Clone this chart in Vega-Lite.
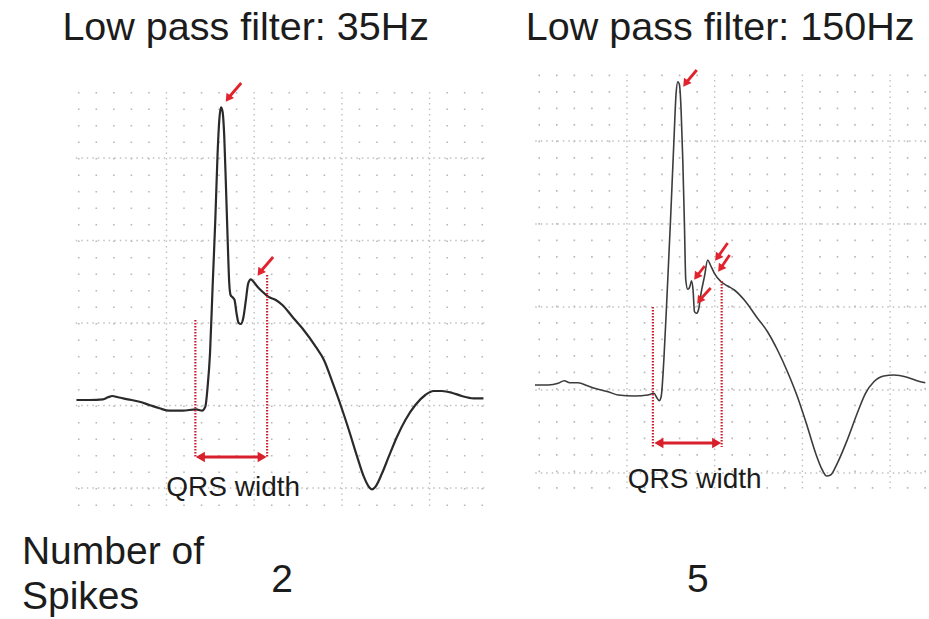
{
  "$schema": "https://vega.github.io/schema/vega-lite/v6.json",
  "width": 929,
  "height": 619,
  "padding": 0,
  "autosize": {"type": "fit", "contains": "padding"},
  "background": "white",
  "config": {"view": {"stroke": null}, "text": {"font": "Liberation Sans"}},
  "datasets": {
    "gridV": [
      {"x": 79, "y": 92, "y2": 506, "kind": "minor"},
      {"x": 96.6, "y": 92, "y2": 506, "kind": "minor"},
      {"x": 114.2, "y": 92, "y2": 506, "kind": "minor"},
      {"x": 131.8, "y": 92, "y2": 506, "kind": "minor"},
      {"x": 149.4, "y": 92, "y2": 506, "kind": "minor"},
      {"x": 167, "y": 92, "y2": 506, "kind": "major"},
      {"x": 184.6, "y": 92, "y2": 506, "kind": "minor"},
      {"x": 202.2, "y": 92, "y2": 506, "kind": "minor"},
      {"x": 219.8, "y": 92, "y2": 506, "kind": "minor"},
      {"x": 237.4, "y": 92, "y2": 506, "kind": "minor"},
      {"x": 255, "y": 92, "y2": 506, "kind": "major"},
      {"x": 272.6, "y": 92, "y2": 506, "kind": "minor"},
      {"x": 290.2, "y": 92, "y2": 506, "kind": "minor"},
      {"x": 307.8, "y": 92, "y2": 506, "kind": "minor"},
      {"x": 325.4, "y": 92, "y2": 506, "kind": "minor"},
      {"x": 343, "y": 92, "y2": 506, "kind": "major"},
      {"x": 360.6, "y": 92, "y2": 506, "kind": "minor"},
      {"x": 378.2, "y": 92, "y2": 506, "kind": "minor"},
      {"x": 395.8, "y": 92, "y2": 506, "kind": "minor"},
      {"x": 413.4, "y": 92, "y2": 506, "kind": "minor"},
      {"x": 431, "y": 92, "y2": 506, "kind": "major"},
      {"x": 448.6, "y": 92, "y2": 506, "kind": "minor"},
      {"x": 466.2, "y": 92, "y2": 506, "kind": "minor"},
      {"x": 483.8, "y": 92, "y2": 506, "kind": "minor"},
      {"x": 541, "y": 74.6, "y2": 491, "kind": "minor"},
      {"x": 558.6, "y": 74.6, "y2": 491, "kind": "minor"},
      {"x": 576.2, "y": 74.6, "y2": 491, "kind": "minor"},
      {"x": 593.8, "y": 74.6, "y2": 491, "kind": "minor"},
      {"x": 611.4, "y": 74.6, "y2": 491, "kind": "minor"},
      {"x": 629, "y": 74.6, "y2": 491, "kind": "major"},
      {"x": 646.6, "y": 74.6, "y2": 491, "kind": "minor"},
      {"x": 664.2, "y": 74.6, "y2": 491, "kind": "minor"},
      {"x": 681.8, "y": 74.6, "y2": 491, "kind": "minor"},
      {"x": 699.4, "y": 74.6, "y2": 491, "kind": "minor"},
      {"x": 717, "y": 74.6, "y2": 491, "kind": "major"},
      {"x": 734.6, "y": 74.6, "y2": 491, "kind": "minor"},
      {"x": 752.2, "y": 74.6, "y2": 491, "kind": "minor"},
      {"x": 769.8, "y": 74.6, "y2": 491, "kind": "minor"},
      {"x": 787.4, "y": 74.6, "y2": 491, "kind": "minor"},
      {"x": 805, "y": 74.6, "y2": 491, "kind": "major"},
      {"x": 822.6, "y": 74.6, "y2": 491, "kind": "minor"},
      {"x": 840.2, "y": 74.6, "y2": 491, "kind": "minor"},
      {"x": 857.8, "y": 74.6, "y2": 491, "kind": "minor"},
      {"x": 875.4, "y": 74.6, "y2": 491, "kind": "minor"},
      {"x": 893, "y": 74.6, "y2": 491, "kind": "major"},
      {"x": 910.6, "y": 74.6, "y2": 491, "kind": "minor"},
      {"x": 928.2, "y": 74.6, "y2": 491, "kind": "minor"}
    ],
    "gridH": [
      {"y": 158, "x": 76, "x2": 486},
      {"y": 240.5, "x": 76, "x2": 486},
      {"y": 323, "x": 76, "x2": 486},
      {"y": 405.5, "x": 76, "x2": 486},
      {"y": 488, "x": 76, "x2": 486},
      {"y": 141, "x": 537, "x2": 929},
      {"y": 224, "x": 537, "x2": 929},
      {"y": 307, "x": 537, "x2": 929},
      {"y": 390, "x": 537, "x2": 929},
      {"y": 473, "x": 537, "x2": 929}
    ],
    "traceL": [
      {"x": 76.7, "y": 400}, {"x": 90, "y": 400}, {"x": 103.3, "y": 399.3}, {"x": 108.3, "y": 397.3},
      {"x": 112.7, "y": 396}, {"x": 118.3, "y": 397.3}, {"x": 128.3, "y": 399.3}, {"x": 140, "y": 401.7},
      {"x": 150, "y": 405}, {"x": 160, "y": 408.3}, {"x": 170, "y": 410.7}, {"x": 183.3, "y": 410.7},
      {"x": 196.7, "y": 409.3}, {"x": 202.7, "y": 410.7}, {"x": 206, "y": 406.7}, {"x": 208.3, "y": 386.7},
      {"x": 210.7, "y": 353.3}, {"x": 213.3, "y": 286.7}, {"x": 216, "y": 220}, {"x": 218.3, "y": 153.3},
      {"x": 220, "y": 120}, {"x": 221.7, "y": 107.3}, {"x": 223.3, "y": 111.7}, {"x": 225, "y": 136.7},
      {"x": 226.7, "y": 186.7}, {"x": 228.3, "y": 236.7}, {"x": 230, "y": 283.3}, {"x": 231.3, "y": 295},
      {"x": 233.3, "y": 297.3}, {"x": 235.3, "y": 300}, {"x": 237.3, "y": 313.3}, {"x": 239.3, "y": 322.7},
      {"x": 241.7, "y": 324}, {"x": 244, "y": 318.3}, {"x": 246.7, "y": 300}, {"x": 249, "y": 283.3},
      {"x": 251.7, "y": 279.3}, {"x": 254.3, "y": 281.7}, {"x": 258.3, "y": 286.7}, {"x": 263.3, "y": 291.7},
      {"x": 269, "y": 296.7}, {"x": 276.7, "y": 300}, {"x": 283.3, "y": 305}, {"x": 293.3, "y": 316.7},
      {"x": 303.3, "y": 328.3}, {"x": 316.7, "y": 346.7}, {"x": 325, "y": 360}, {"x": 333.3, "y": 381.7},
      {"x": 341.7, "y": 405}, {"x": 350, "y": 430}, {"x": 358.3, "y": 456.7}, {"x": 365, "y": 476.7},
      {"x": 370, "y": 486.7}, {"x": 373.3, "y": 489.3}, {"x": 376.7, "y": 486.7}, {"x": 383.3, "y": 473.3},
      {"x": 390, "y": 456.7}, {"x": 398.3, "y": 436.7}, {"x": 406.7, "y": 420}, {"x": 416.7, "y": 405},
      {"x": 426.7, "y": 395}, {"x": 435, "y": 391}, {"x": 443.3, "y": 391}, {"x": 453.3, "y": 392.7},
      {"x": 463.3, "y": 396}, {"x": 475, "y": 398.3}, {"x": 485, "y": 398.3}
    ],
    "traceR": [
      {"x": 536.7, "y": 385}, {"x": 550, "y": 385}, {"x": 560, "y": 383.3}, {"x": 566, "y": 380.7},
      {"x": 571.7, "y": 382.7}, {"x": 580, "y": 382.7}, {"x": 590, "y": 386}, {"x": 600, "y": 389.3},
      {"x": 610, "y": 391.7}, {"x": 620, "y": 395}, {"x": 636.7, "y": 396}, {"x": 650, "y": 395},
      {"x": 656, "y": 393.3}, {"x": 659.3, "y": 398.3}, {"x": 661.3, "y": 400.7}, {"x": 663.3, "y": 396.7},
      {"x": 666, "y": 360}, {"x": 669.3, "y": 293.3}, {"x": 672.7, "y": 220}, {"x": 676, "y": 143.3},
      {"x": 678.3, "y": 93.3}, {"x": 680, "y": 81.7}, {"x": 681.7, "y": 85}, {"x": 683.3, "y": 110},
      {"x": 685, "y": 160}, {"x": 686.7, "y": 226.7}, {"x": 688, "y": 280}, {"x": 690, "y": 289.3},
      {"x": 692.3, "y": 286}, {"x": 693.7, "y": 280.7}, {"x": 695.3, "y": 290}, {"x": 696.7, "y": 311.7},
      {"x": 698.7, "y": 313.3}, {"x": 700.7, "y": 310}, {"x": 703.3, "y": 293.3}, {"x": 706.7, "y": 276.7},
      {"x": 710, "y": 260}, {"x": 712.7, "y": 265}, {"x": 716.7, "y": 273.3}, {"x": 723.3, "y": 281.7},
      {"x": 730, "y": 286}, {"x": 736.7, "y": 290}, {"x": 746.7, "y": 300}, {"x": 760, "y": 318.3},
      {"x": 770, "y": 331.7}, {"x": 780, "y": 350}, {"x": 790, "y": 371.7}, {"x": 800, "y": 396.7},
      {"x": 810, "y": 426.7}, {"x": 818.3, "y": 453.3}, {"x": 825, "y": 470}, {"x": 829.3, "y": 476},
      {"x": 833.3, "y": 475}, {"x": 840, "y": 463.3}, {"x": 850, "y": 440}, {"x": 860, "y": 413.3},
      {"x": 868.3, "y": 393.3}, {"x": 876.7, "y": 381.7}, {"x": 886.7, "y": 376}, {"x": 896.7, "y": 375},
      {"x": 910, "y": 377.3}, {"x": 920, "y": 380.7}, {"x": 928.3, "y": 382.7}
    ],
    "qrsLines": [
      {"x": 196, "y": 320, "y2": 458},
      {"x": 268, "y": 275, "y2": 458},
      {"x": 655, "y": 307, "y2": 447},
      {"x": 724, "y": 281, "y2": 447}
    ],
    "qrsArrows": [
      {"x": 201, "x2": 263, "y": 457},
      {"x": 661, "x2": 719, "y": 443}
    ],
    "spikeArrows": [
      {"x": 242, "y": 83, "x2": 229.5, "y2": 97.5},
      {"x": 274, "y": 257, "x2": 261.5, "y2": 271.5},
      {"x": 699, "y": 70, "x2": 688.5, "y2": 82.5},
      {"x": 730, "y": 243, "x2": 720.5, "y2": 256.5},
      {"x": 732, "y": 255, "x2": 723.5, "y2": 267.5},
      {"x": 707, "y": 266, "x2": 699.5, "y2": 275.5},
      {"x": 713, "y": 288, "x2": 702.5, "y2": 299.5}
    ],
    "titles": [
      {"x": 246.5, "y": 40, "text": "Low pass filter: 35Hz"},
      {"x": 722.5, "y": 40, "text": "Low pass filter: 150Hz"}
    ],
    "rowLabel": [
      {"x": 22, "y": 564, "text": "Number of"},
      {"x": 22, "y": 609, "text": "Spikes"}
    ],
    "counts": [
      {"x": 283, "y": 592, "text": "2"},
      {"x": 700, "y": 592, "text": "5"}
    ],
    "qrsText": [
      {"x": 234, "y": 496, "text": "QRS width"},
      {"x": 697, "y": 488, "text": "QRS width"}
    ]
  },
  "encoding": {
    "x": {"field": "x", "type": "quantitative", "scale": {"domain": [0, 929], "nice": false, "zero": false}, "axis": null},
    "y": {"field": "y", "type": "quantitative", "scale": {"domain": [0, 619], "nice": false, "zero": false, "reverse": true}, "axis": null}
  },
  "layer": [
    {
      "data": {"name": "gridV"},
      "transform": [{"filter": "datum.kind === 'minor'"}],
      "mark": {"type": "rule", "color": "#b8b8b8", "strokeWidth": 1.6, "strokeDash": [1.6, 14.9]},
      "encoding": {"y2": {"field": "y2"}}
    },
    {
      "data": {"name": "gridV"},
      "transform": [{"filter": "datum.kind === 'major'"}],
      "mark": {"type": "rule", "color": "#c0c0c0", "strokeWidth": 1.4, "strokeDash": [1.5, 4]},
      "encoding": {"y2": {"field": "y2"}}
    },
    {
      "data": {"name": "gridH"},
      "mark": {"type": "rule", "color": "#c0c0c0", "strokeWidth": 1.4, "strokeDash": [1.5, 4]},
      "encoding": {"x2": {"field": "x2"}}
    },
    {
      "data": {"name": "traceL"},
      "mark": {"type": "line", "color": "#2a2a2a", "strokeWidth": 2.2, "interpolate": "monotone"},
      "encoding": {}
    },
    {
      "data": {"name": "traceR"},
      "mark": {"type": "line", "color": "#3c3c3c", "strokeWidth": 1.6, "interpolate": "monotone"},
      "encoding": {}
    },
    {
      "data": {"name": "qrsLines"},
      "mark": {"type": "rule", "color": "#c8202e", "strokeWidth": 2.2, "strokeDash": [1.6, 1.4]},
      "encoding": {"y2": {"field": "y2"}}
    },
    {
      "data": {"name": "qrsArrows"},
      "mark": {"type": "rule", "color": "#d8202c", "strokeWidth": 3},
      "encoding": {"x2": {"field": "x2"}}
    },
    {
      "data": {"name": "qrsArrows"},
      "mark": {"type": "point", "shape": "triangle-left", "filled": true, "color": "#d8202c", "size": 110, "opacity": 1},
      "encoding": {}
    },
    {
      "data": {"name": "qrsArrows"},
      "mark": {"type": "point", "shape": "triangle-right", "filled": true, "color": "#d8202c", "size": 110, "opacity": 1},
      "encoding": {"x": {"field": "x2", "type": "quantitative"}}
    },
    {
      "data": {"name": "spikeArrows"},
      "mark": {"type": "rule", "color": "#e0232d", "strokeWidth": 2.8},
      "encoding": {"x2": {"field": "x2"}, "y2": {"field": "y2"}}
    },
    {
      "data": {"name": "spikeArrows"},
      "mark": {"type": "point", "shape": "triangle", "angle": 215, "filled": true, "color": "#e0232d", "size": 85, "opacity": 1},
      "encoding": {"x": {"field": "x2", "type": "quantitative"}, "y": {"field": "y2", "type": "quantitative"}}
    },
    {
      "data": {"name": "titles"},
      "mark": {"type": "text", "fontSize": 39.5, "align": "center", "baseline": "alphabetic", "color": "#1c1c1c"},
      "encoding": {"text": {"field": "text"}}
    },
    {
      "data": {"name": "rowLabel"},
      "mark": {"type": "text", "fontSize": 39, "align": "left", "baseline": "alphabetic", "color": "#1c1c1c"},
      "encoding": {"text": {"field": "text"}}
    },
    {
      "data": {"name": "counts"},
      "mark": {"type": "text", "fontSize": 39, "align": "center", "baseline": "alphabetic", "color": "#1c1c1c"},
      "encoding": {"text": {"field": "text"}}
    },
    {
      "data": {"name": "qrsText"},
      "mark": {"type": "text", "fontSize": 28, "align": "center", "baseline": "alphabetic", "color": "#1c1c1c"},
      "encoding": {"text": {"field": "text"}}
    }
  ]
}
